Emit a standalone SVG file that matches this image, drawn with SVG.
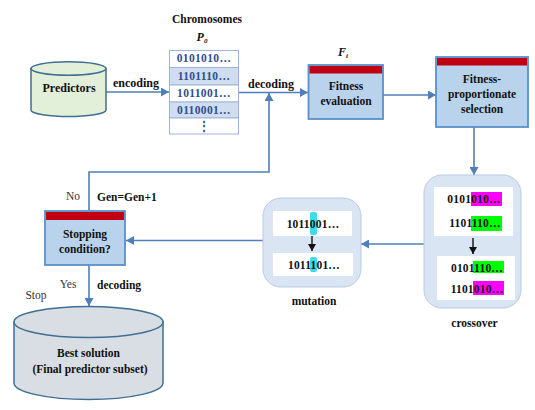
<svg xmlns="http://www.w3.org/2000/svg" width="535" height="410" viewBox="0 0 535 410">
<style>
text{font-family:"Liberation Serif","Times New Roman",serif;font-size:11.5px;font-weight:bold;fill:#111;text-anchor:middle}
.plain{font-weight:normal;fill:#333}
.l{text-anchor:start}
.blue{fill:#2f4f8f;font-size:11.5px;letter-spacing:.35px}
.bit{letter-spacing:.2px}
.con{fill:none;stroke:#4f7fba;stroke-width:1.6}
.box{fill:#b9d3ec;stroke:#5b8fcb;stroke-width:1.8}
.red{fill:#c00012}
.cont{fill:#dae5f3;stroke:#b7cbe3;stroke-width:1}
.panel{fill:#fff}
.row{stroke:#9db5d8;stroke-width:1}
.blk{stroke:#111;stroke-width:1.4;fill:none}
</style>
<defs>
<marker id="a" markerUnits="userSpaceOnUse" markerWidth="9" markerHeight="9" refX="8" refY="4.5" orient="auto"><path d="M0 0L8 4.5L0 9Z" fill="#4f7fba"/></marker>
<marker id="b" markerUnits="userSpaceOnUse" markerWidth="8" markerHeight="8" refX="7" refY="4" orient="auto"><path d="M0 0L7 4L0 8Z" fill="#111"/></marker>
</defs>
<rect width="535" height="410" fill="#fff"/>
<g id="connectors">
<path class="con" marker-end="url(#a)" d="M106 92H169"/>
<path class="con" marker-end="url(#a)" d="M239 92.500H308"/>
<path class="con" marker-end="url(#a)" d="M89 211V172H269V93"/>
<path class="con" marker-end="url(#a)" d="M383 95H436"/>
<path class="con" marker-end="url(#a)" d="M474 127V175"/>
<path class="con" marker-end="url(#a)" d="M424 244H361"/>
<path class="con" marker-end="url(#a)" d="M263 240.500H126"/>
<path class="con" marker-end="url(#a)" d="M89 265V306"/>
</g>
<g id="predictors">
<path d="M31 68.500V110C31 114 50 116.500 68.500 116.500S106 114 106 110V68.500Z" fill="#e2efd9" stroke="#3f6f94" stroke-width="1.5"/>
<ellipse cx="68.500" cy="68.500" rx="37.500" ry="6.800" fill="#e2efd9" stroke="#3f6f94" stroke-width="1.5"/>
<text x="69" y="92" style="font-size:12px">Predictors</text>
</g>
<g id="chromosomes">
<text x="207" y="23">Chromosomes</text>
<text x="202" y="41" style="font-style:italic;font-size:12px">P<tspan dy="2" style="font-size:7px">0</tspan></text>
<rect class="row" x="169.500" y="50.500" width="69" height="17" fill="#fff"/>
<rect class="row" x="169.500" y="67.500" width="69" height="17.500" fill="#d0dcf0"/>
<rect class="row" x="169.500" y="85" width="69" height="17" fill="#fff"/>
<rect class="row" x="169.500" y="102" width="69" height="16" fill="#d0dcf0"/>
<rect class="row" x="169.500" y="118" width="69" height="16" fill="#fff"/>
<text class="blue" x="204" y="62">0101010…</text>
<text class="blue" x="204" y="80">1101110…</text>
<text class="blue" x="204" y="97">1011001…</text>
<text class="blue" x="204" y="114">0110001…</text>
<text class="blue" x="204" y="130">⋮</text>
</g>
<g id="fitness">
<text x="343" y="56" style="font-style:italic;font-size:12px">F<tspan dy="2" style="font-size:7px">i</tspan></text>
<rect class="box" x="308.500" y="65" width="74.500" height="54"/>
<rect class="red" x="309.500" y="66" width="72.500" height="7.500"/>
<text x="346" y="90">Fitness</text>
<text x="346" y="105">evaluation</text>
</g>
<g id="selection">
<rect class="box" x="436" y="57" width="92" height="70"/>
<rect class="red" x="437" y="58" width="90" height="7.500"/>
<text x="482" y="83">Fitness-</text>
<text x="482" y="98">proportionate</text>
<text x="482" y="113">selection</text>
</g>
<g id="crossover">
<rect class="cont" x="424" y="175" width="97" height="133" rx="18"/>
<rect class="panel" x="434" y="187" width="79" height="49"/>
<rect class="panel" x="437" y="256" width="78" height="44"/>
<rect x="471" y="192" width="31" height="14" fill="#f0f"/>
<rect x="471" y="216" width="31" height="15" fill="#0f0"/>
<rect x="473" y="261" width="31" height="12" fill="#0f0"/>
<rect x="473" y="281" width="31" height="14" fill="#f0f"/>
<text class="bit" x="474" y="203">0101010…</text>
<text class="bit" x="475" y="227">1101110…</text>
<text class="bit" x="477" y="272">0101110…</text>
<text class="bit" x="477" y="293">1101010…</text>
<path class="blk" marker-end="url(#b)" d="M473 238V254"/>
<text x="474.500" y="327">crossover</text>
</g>
<g id="mutation">
<rect class="cont" x="263" y="198" width="98" height="89" rx="18"/>
<rect class="panel" x="273" y="211" width="79" height="25"/>
<rect class="panel" x="273" y="253" width="80" height="23"/>
<rect x="310" y="212" width="7" height="23" rx="2" fill="#3fdbe6"/>
<rect x="310" y="257" width="7" height="15" rx="2" fill="#3fdbe6"/>
<text class="bit" x="313" y="228">1011001…</text>
<text class="bit" x="314" y="269">1011101…</text>
<path class="blk" marker-end="url(#b)" d="M312 236V251"/>
<text x="314" y="305">mutation</text>
</g>
<g id="stopping">
<rect class="box" x="45" y="211" width="80" height="54"/>
<rect class="red" x="46" y="212" width="78" height="8"/>
<text x="85" y="238">Stopping</text>
<text x="85" y="253">condition?</text>
<text class="plain" x="73" y="200" style="font-size:11.5px">No</text>
<text class="l" x="97" y="201">Gen=Gen+1</text>
<text class="plain" x="68" y="288" style="font-size:11.5px">Yes</text>
<text class="l" x="97" y="289">decoding</text>
<text class="plain" x="36" y="299" style="font-size:11.5px">Stop</text>
</g>
<g id="best">
<path d="M14 322V383C14 392 47 399.500 88.500 399.500S163 392 163 383V322Z" fill="#d9dde4" stroke="#3f6f94" stroke-width="1.5"/>
<ellipse cx="88.500" cy="322" rx="74.500" ry="15.500" fill="#d9dde4" stroke="#3f6f94" stroke-width="1.5"/>
<text x="88.500" y="357">Best solution</text>
<text x="90" y="373">(Final predictor subset)</text>
</g>
<g id="labels">
<text x="136" y="87" style="font-size:12px">encoding</text>
<text x="271" y="88" style="font-size:12px">decoding</text>
</g>
</svg>
